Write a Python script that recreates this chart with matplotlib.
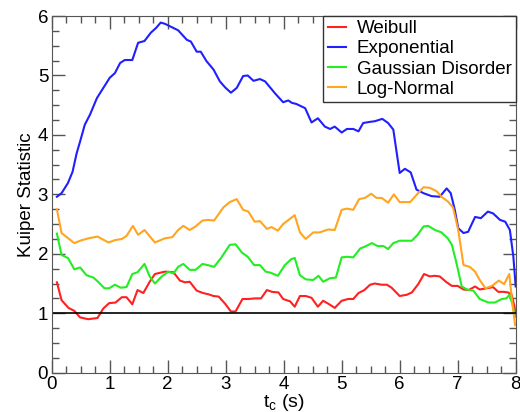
import matplotlib
matplotlib.use("Agg")
import matplotlib.pyplot as plt
from matplotlib.ticker import MultipleLocator

plt.rcParams["font.family"] = ["Liberation Sans", "DejaVu Sans"]

# Values (t_c in s, Kuiper statistic)
exp_t = [0.09, 0.17, 0.28, 0.36, 0.43, 0.49, 0.57, 0.66, 0.78, 0.89, 1.00, 1.09, 1.18, 1.26,
         1.39, 1.49, 1.60, 1.71, 1.80, 1.88, 1.95, 2.18, 2.33, 2.40, 2.50, 2.57, 2.67, 2.79,
         2.90, 2.99, 3.09, 3.19, 3.30, 3.38, 3.48, 3.59, 3.68, 3.85, 3.99, 4.08, 4.14, 4.22,
         4.37, 4.48, 4.59, 4.71, 4.80, 4.88, 5.00, 5.09, 5.20, 5.29, 5.37, 5.49, 5.57, 5.70,
         5.80, 5.89, 6.00, 6.09, 6.19, 6.29, 6.41, 6.55, 6.69, 6.81, 6.88, 6.95, 7.01, 7.10,
         7.18, 7.30, 7.40, 7.52, 7.61, 7.73, 7.82, 7.90, 7.96, 8.00]
exp_k = [2.96, 3.02, 3.19, 3.38, 3.69, 3.89, 4.17, 4.34, 4.62, 4.79, 4.96, 5.04, 5.21, 5.26,
         5.26, 5.55, 5.58, 5.72, 5.80, 5.89, 5.87, 5.76, 5.60, 5.57, 5.40, 5.40, 5.24, 5.10,
         4.90, 4.80, 4.71, 4.79, 4.99, 5.00, 4.91, 4.94, 4.90, 4.70, 4.55, 4.58, 4.54, 4.52,
         4.45, 4.21, 4.28, 4.14, 4.10, 4.14, 4.04, 4.10, 4.10, 4.06, 4.20, 4.22, 4.23, 4.27,
         4.20, 4.09, 3.36, 3.43, 3.37, 3.08, 3.02, 2.97, 2.96, 3.10, 3.02, 2.74, 2.43, 2.35,
         2.37, 2.62, 2.60, 2.71, 2.68, 2.57, 2.54, 2.40, 1.95, 1.45]

logn_t = [0.09, 0.17, 0.39, 0.49, 0.63, 0.79, 0.98, 1.09, 1.21, 1.29, 1.40, 1.49, 1.60, 1.78,
          1.95, 2.08, 2.18, 2.27, 2.38, 2.48, 2.60, 2.70, 2.80, 2.96, 3.07, 3.19, 3.30, 3.39,
          3.50, 3.59, 3.71, 3.79, 3.90, 3.99, 4.19, 4.28, 4.38, 4.51, 4.62, 4.77, 4.88, 5.00,
          5.09, 5.20, 5.30, 5.40, 5.51, 5.60, 5.69, 5.80, 5.90, 6.00, 6.12, 6.18, 6.29, 6.41,
          6.52, 6.64, 6.72, 6.83, 6.92, 7.01, 7.10, 7.21, 7.30, 7.38, 7.48, 7.59, 7.71, 7.80,
          7.89, 7.93, 7.99]
logn_k = [2.75, 2.35, 2.18, 2.22, 2.26, 2.29, 2.19, 2.23, 2.25, 2.30, 2.47, 2.32, 2.40, 2.19,
          2.26, 2.28, 2.40, 2.47, 2.40, 2.46, 2.56, 2.57, 2.56, 2.78, 2.87, 2.92, 2.74, 2.71,
          2.54, 2.55, 2.42, 2.45, 2.39, 2.50, 2.65, 2.36, 2.25, 2.36, 2.36, 2.41, 2.40, 2.74,
          2.76, 2.74, 2.92, 2.94, 3.01, 2.94, 2.94, 2.86, 3.00, 2.87, 2.87, 2.87, 2.99, 3.12,
          3.11, 3.05, 2.96, 2.88, 2.78, 2.40, 1.81, 1.78, 1.70, 1.56, 1.42, 1.46, 1.55, 1.49,
          1.66, 1.28, 0.80]

gauss_t = [0.09, 0.17, 0.28, 0.39, 0.49, 0.60, 0.72, 0.80, 0.91, 0.99, 1.09, 1.19, 1.29, 1.39,
           1.48, 1.60, 1.69, 1.78, 1.90, 2.01, 2.10, 2.18, 2.27, 2.38, 2.48, 2.60, 2.69, 2.80,
           2.92, 3.07, 3.17, 3.28, 3.38, 3.49, 3.59, 3.69, 3.78, 3.90, 4.02, 4.13, 4.19, 4.28,
           4.38, 4.51, 4.60, 4.68, 4.80, 4.90, 5.00, 5.09, 5.20, 5.32, 5.40, 5.52, 5.62, 5.72,
           5.80, 5.89, 6.00, 6.12, 6.21, 6.31, 6.41, 6.49, 6.61, 6.72, 6.83, 6.90, 6.98, 7.07,
           7.16, 7.27, 7.38, 7.53, 7.64, 7.76, 7.84, 7.89, 7.94, 7.99]
gauss_k = [2.34, 1.98, 1.93, 1.74, 1.77, 1.64, 1.60, 1.53, 1.42, 1.42, 1.48, 1.43, 1.44, 1.66,
           1.69, 1.83, 1.62, 1.50, 1.62, 1.70, 1.67, 1.78, 1.83, 1.73, 1.73, 1.83, 1.81, 1.78,
           1.93, 2.15, 2.16, 2.02, 1.95, 1.81, 1.81, 1.70, 1.68, 1.63, 1.81, 1.91, 1.93, 1.64,
           1.57, 1.56, 1.63, 1.53, 1.59, 1.60, 1.94, 1.95, 1.94, 2.09, 2.12, 2.18, 2.13, 2.13,
           2.08, 2.18, 2.22, 2.22, 2.22, 2.32, 2.46, 2.47, 2.40, 2.36, 2.26, 2.15, 1.84, 1.45,
           1.40, 1.38, 1.24, 1.18, 1.18, 1.24, 1.25, 1.31, 1.17, 0.94]

weib_t = [0.09, 0.17, 0.29, 0.39, 0.49, 0.63, 0.79, 0.89, 0.99, 1.10, 1.21, 1.29, 1.39, 1.48,
          1.58, 1.69, 1.78, 1.95, 2.10, 2.21, 2.30, 2.38, 2.50, 2.61, 2.70, 2.79, 2.88, 2.99,
          3.09, 3.17, 3.29, 3.39, 3.51, 3.61, 3.71, 3.80, 3.91, 3.99, 4.11, 4.19, 4.28, 4.38,
          4.48, 4.59, 4.68, 4.77, 4.88, 5.00, 5.11, 5.20, 5.29, 5.39, 5.49, 5.57, 5.69, 5.78,
          5.86, 6.00, 6.12, 6.21, 6.32, 6.42, 6.52, 6.60, 6.69, 6.81, 6.90, 7.00, 7.10, 7.19,
          7.30, 7.38, 7.50, 7.61, 7.70, 7.79, 7.87, 7.93, 7.98, 8.00]
weib_k = [1.52, 1.22, 1.09, 1.04, 0.93, 0.90, 0.92, 1.08, 1.17, 1.18, 1.27, 1.27, 1.15, 1.39,
          1.34, 1.53, 1.66, 1.70, 1.69, 1.55, 1.52, 1.53, 1.38, 1.34, 1.32, 1.29, 1.28, 1.16,
          1.03, 1.03, 1.24, 1.24, 1.25, 1.25, 1.39, 1.36, 1.35, 1.24, 1.20, 1.11, 1.29, 1.29,
          1.26, 1.11, 1.21, 1.16, 1.09, 1.21, 1.24, 1.24, 1.34, 1.39, 1.48, 1.50, 1.48, 1.48,
          1.43, 1.29, 1.31, 1.35, 1.49, 1.66, 1.62, 1.63, 1.62, 1.52, 1.46, 1.46, 1.40, 1.39,
          1.45, 1.40, 1.42, 1.44, 1.36, 1.36, 1.35, 1.31, 1.11, 0.95]

fig = plt.figure(figsize=(5.2, 4.12), dpi=100)
ax = fig.add_axes([0.0994, 0.0954, 0.8923, 0.8657])

ax.plot(weib_t, weib_k, color="#ff2020", lw=1.5, label="Weibull")
ax.plot(exp_t, exp_k, color="#1f1fff", lw=1.5, label="Exponential")
ax.plot(gauss_t, gauss_k, color="#22ee22", lw=1.5, label="Gaussian Disorder")
ax.plot(logn_t, logn_k, color="#ffa51f", lw=1.5, label="Log-Normal")
ax.axhline(1, color="black", lw=1.2)

ax.set_xlim(0, 8)
ax.set_ylim(0, 6)
ax.xaxis.set_major_locator(MultipleLocator(1))
ax.yaxis.set_major_locator(MultipleLocator(1))
ax.xaxis.set_minor_locator(MultipleLocator(0.25))
ax.yaxis.set_minor_locator(MultipleLocator(0.25))
ax.tick_params(which="both", direction="in", top=True, right=True, color="#555555")
ax.tick_params(which="major", length=9.5, width=1, labelsize=13.5, pad=2.5)
ax.tick_params(which="minor", length=4.8, width=1)
for s in ax.spines.values():
    s.set_color("#555555")

ax.set_xlabel(r"t$_\mathregular{c}$ (s)", fontsize=14, labelpad=-1)
ax.set_ylabel("Kuiper Statistic", fontsize=13.5, labelpad=2)

leg = ax.legend(loc="upper right", bbox_to_anchor=(1, 1), borderaxespad=0, fontsize=13.5,
                fancybox=False, edgecolor="#333333", framealpha=1, handlelength=1.0,
                handletextpad=0.55, labelspacing=0.16, borderpad=0.22)
leg.get_frame().set_linewidth(1)

fig.savefig("out.png", dpi=100)
